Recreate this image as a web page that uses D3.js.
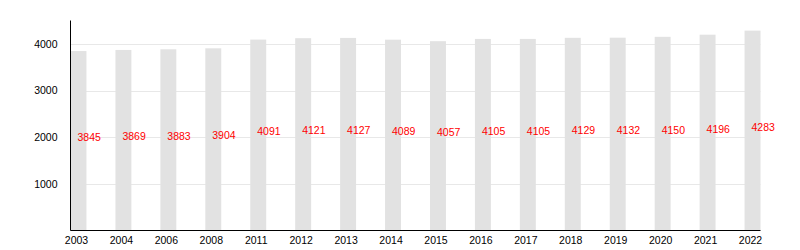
<!DOCTYPE html>
<html>
<head>
<meta charset="utf-8">
<script src="https://cdn.jsdelivr.net/npm/d3@7"></script>
<style>
  body { margin: 0; background: #fff; }
  text { font-family: "Liberation Sans", Arial, sans-serif; }
</style>
</head>
<body>
<svg width="800" height="250"></svg>
<script>
"use strict";

var years = ["2003", "2004", "2006", "2008", "2011", "2012", "2013", "2014",
  "2015", "2016", "2017", "2018", "2019", "2020", "2021", "2022"];
var population = [3845, 3869, 3883, 3904, 4091, 4121, 4127, 4089,
  4057, 4105, 4105, 4129, 4132, 4150, 4196, 4283];
var yTicks = [1000, 2000, 3000, 4000];

var svg = d3.select("svg");

var x = d3.scaleBand().domain(years).range([70.5, 760.5]).paddingInner(0.645).paddingOuter(0).align(0);
var y = d3.scaleLinear().domain([0, 4500]).range([230.5, 20.5]);

var data = years.map(function (d, i) { return { year: d, value: population[i] }; });

// grid
svg.append("g").selectAll("line").data(yTicks).enter().append("line")
  .attr("x1", 70.5).attr("x2", 760.5)
  .attr("y1", function (d) { return Math.round(y(d)) + 0.5; })
  .attr("y2", function (d) { return Math.round(y(d)) + 0.5; })
  .attr("stroke", "#e8e8e8").attr("stroke-width", 1);

// bars
svg.append("g").selectAll("rect").data(data).enter().append("rect")
  .attr("x", function (d) { return x(d.year); })
  .attr("width", x.bandwidth())
  .attr("y", function (d) { return y(d.value); })
  .attr("height", function (d) { return y(0) - y(d.value); })
  .attr("fill", "#e2e2e2");

// y axis
var yAxis = svg.append("g").attr("transform", "translate(70.5,0)")
  .call(d3.axisLeft(y).tickValues(yTicks).tickSize(0).tickPadding(13).tickFormat(d3.format("d")));
yAxis.select(".domain").attr("stroke", "#000").attr("d", "M0,20.5V230.5");
yAxis.selectAll("text").attr("font-size", "10.5px").attr("fill", "#000").attr("font-family", null);

// x axis
var xAxis = svg.append("g").attr("transform", "translate(0,230.5)")
  .call(d3.axisBottom(x).tickSize(0).tickPadding(6));
xAxis.select(".domain").attr("stroke", "#000").attr("d", "M70.5,0H760.5");
xAxis.selectAll(".tick text").attr("font-size", "10.5px").attr("fill", "#000")
  .attr("font-family", null).attr("dx", -2);

// value labels
svg.append("g").selectAll("text").data(data).enter().append("text")
  .attr("x", function (d) { return x(d.year) + x.bandwidth() / 2 - 1; })
  .attr("y", function (d) { return y(d.value / 2); })
  .attr("fill", "#ff0000")
  .attr("font-size", "10.5px")
  .text(function (d) { return d.value; });
</script>
</body>
</html>
